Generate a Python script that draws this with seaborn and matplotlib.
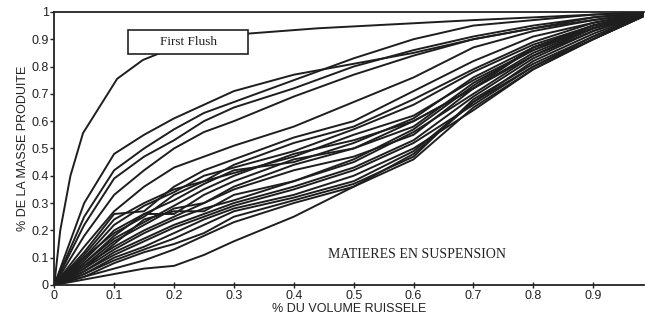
import numpy as np
import pandas as pd
import seaborn as sns
import matplotlib.pyplot as plt
from matplotlib.patches import Rectangle

# % du volume ruisselé (abscisse commune)
vol = [0, 0.05, 0.1, 0.15, 0.2, 0.25, 0.3, 0.4, 0.5, 0.6, 0.7, 0.8, 0.9, 1]

# courbe "first flush"
vol_ff = [0, 0.01, 0.027, 0.048, 0.105, 0.148, 0.2, 0.32, 0.44, 0.7, 0.9, 1]
masse_ff = [0, 0.2, 0.4, 0.556, 0.755, 0.824, 0.87, 0.92, 0.94, 0.97, 0.99, 1]

# autres événements (% de la masse produite)
masse = {
    'A': [0, .30, .48, .55, .61, .66, .71, .77, .81, .85, .90, .94, .97, 1],
    'B': [0, .22, .39, .47, .53, .60, .65, .72, .80, .86, .91, .95, .98, 1],
    'C': [0, .18, .33, .42, .50, .56, .60, .69, .77, .84, .90, .94, .98, 1],
    'D': [0, .14, .27, .36, .43, .47, .51, .58, .67, .76, .87, .93, .97, 1],
    'E': [0, .12, .26, .27, .36, .42, .46, .54, .60, .71, .82, .91, .96, 1],
    'F': [0, .10, .22, .29, .34, .40, .43, .49, .57, .66, .78, .88, .95, 1],
    'G': [0, .09, .20, .26, .31, .37, .42, .45, .52, .61, .76, .87, .94, 1],
    'H': [0, .08, .18, .26, .26, .33, .38, .46, .50, .58, .74, .86, .94, 1],
    'I': [0, .07, .16, .22, .28, .30, .35, .42, .47, .55, .72, .85, .94, 1],
    'J': [0, .06, .15, .24, .27, .27, .33, .38, .46, .57, .73, .87, .95, 1],
    'K': [0, .06, .13, .19, .24, .28, .31, .38, .45, .56, .70, .84, .93, 1],
    'L': [0, .05, .12, .17, .22, .26, .30, .36, .43, .53, .69, .83, .93, 1],
    'M': [0, .05, .11, .16, .21, .25, .29, .35, .42, .52, .66, .80, .91, 1],
    'N': [0, .04, .10, .14, .19, .24, .28, .33, .40, .50, .64, .79, .90, 1],
    'O': [0, .04, .09, .13, .17, .22, .27, .32, .38, .49, .67, .82, .92, 1],
    'P': [0, .03, .08, .12, .15, .19, .25, .31, .37, .47, .68, .81, .91, 1],
    'Q': [0, .03, .06, .09, .13, .18, .23, .30, .36, .46, .65, .79, .90, 1],
    'R': [0, .02, .04, .06, .07, .11, .16, .25, .36, .48, .67, .80, .90, 1],
    'S': [0, .10, .19, .25, .33, .38, .41, .47, .55, .62, .75, .86, .95, 1],
    'T': [0, .08, .17, .23, .29, .35, .40, .48, .53, .60, .72, .84, .94, 1],
    'U': [0, .11, .24, .30, .35, .38, .44, .52, .58, .68, .79, .89, .96, 1],
    'V': [0, .07, .14, .20, .25, .30, .36, .44, .50, .60, .72, .87, .95, 1],
    'W': [0, .25, .42, .50, .57, .63, .67, .75, .83, .90, .95, .97, .99, 1],
}

x_ticks = [0, 0.1, 0.2, 0.3, 0.4, 0.5, 0.6, 0.7, 0.8, 0.9]
x_labels = ['0', '0.1', '0.2', '0.3', '0.4', '0.5', '0.6', '0.7', '0.8', '0.9']
y_ticks = [0, 0.1, 0.2, 0.3, 0.4, 0.5, 0.6, 0.7, 0.8, 0.9, 1]
y_labels = ['0', '0.1', '0.2', '0.3', '0.4', '0.5', '0.6', '0.7', '0.8', '0.9', '1']

# format long pour seaborn
lignes = []
for nom, vals in masse.items():
    for v, m in zip(vol, vals):
        lignes.append((nom, v, m))
for v, m in zip(vol_ff, masse_ff):
    lignes.append(('FF', v, m))
df = pd.DataFrame(lignes, columns=['evenement', 'volume', 'masse'])

sns.set_style('ticks')
sans = ['Liberation Sans Narrow', 'Liberation Sans', 'DejaVu Sans']
serif = ['Liberation Serif', 'DejaVu Serif']

fig = plt.figure(figsize=(6.46, 3.22), dpi=100)
ax = fig.add_axes([0.084, 0.115, 0.913, 0.848])

sns.lineplot(data=df, x='volume', y='masse', units='evenement', estimator=None,
             color='#1e1e1e', linewidth=1.4, sort=False, ax=ax)

ax.set_xlim(0, 0.985)
ax.set_ylim(0, 1)
ax.set_xticks(x_ticks)
ax.set_xticklabels(x_labels, family=sans, fontsize=9)
ax.set_yticks(y_ticks)
ax.set_yticklabels(y_labels, family=sans, fontsize=9)
ax.tick_params(axis='both', length=3, width=1, pad=1, colors='#222222')
ax.tick_params(axis='x', direction='inout', length=5)

for s in ['left', 'bottom', 'top']:
    ax.spines[s].set_color('#222222')
    ax.spines[s].set_linewidth(1.3)
ax.spines['right'].set_visible(False)

ax.set_xlabel('% DU VOLUME RUISSELE', family=sans, fontsize=9, labelpad=1, color='#222222')
ax.set_ylabel('% DE LA MASSE PRODUITE', family=sans, fontsize=9, labelpad=2, color='#222222')

# encadré "First Flush"
ax.add_patch(Rectangle((0.123, 0.846), 0.201, 0.088, facecolor='white',
                       edgecolor='#222222', linewidth=1.2, zorder=5))
ax.text(0.2235, 0.89, 'First Flush', family=serif, fontsize=9.5,
        ha='center', va='center', zorder=6, color='#222222')

ax.text(0.457, 0.11, 'MATIERES EN SUSPENSION', family=serif, fontsize=10,
        ha='left', va='center', color='#222222')

plt.savefig('out.png', dpi=100)
